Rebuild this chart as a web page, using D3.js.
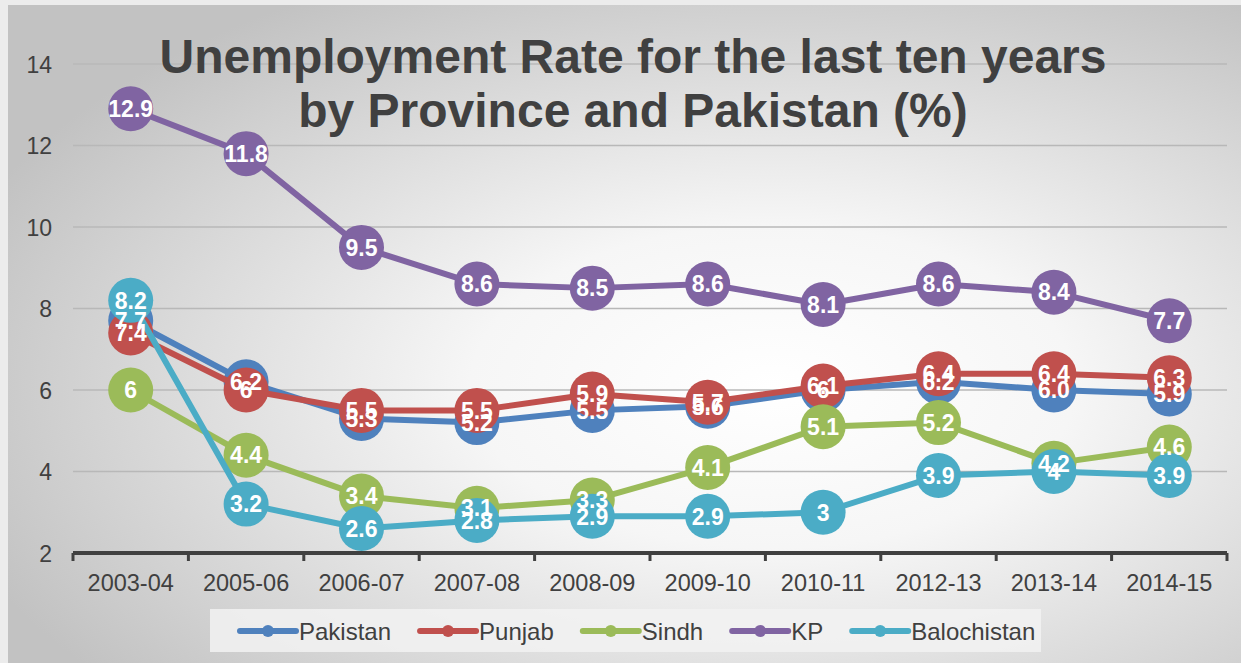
<!DOCTYPE html>
<html>
<head>
<meta charset="utf-8">
<script src="https://cdnjs.cloudflare.com/ajax/libs/d3/7.8.5/d3.min.js"></script>
<style>
  html, body { margin: 0; padding: 0; background: #ececec; }
  svg { display: block; font-family: "Liberation Sans", Arial, sans-serif; }
</style>
</head>
<body>
<div id="chart"></div>
<script>
// Data
const years = ["2003-04", "2005-06", "2006-07", "2007-08", "2008-09", "2009-10", "2010-11", "2012-13", "2013-14", "2014-15"];
const seriesNames = ["Pakistan", "Punjab", "Sindh", "KP", "Balochistan"];
const pakistan = [7.7, 6.2, 5.3, 5.2, 5.5, 5.6, 6, 6.2, 6.0, 5.9];
const punjab = [7.4, 6, 5.5, 5.5, 5.9, 5.7, 6.1, 6.4, 6.4, 6.3];
const sindh = [6, 4.4, 3.4, 3.1, 3.3, 4.1, 5.1, 5.2, 4.2, 4.6];
const kp = [12.9, 11.8, 9.5, 8.6, 8.5, 8.6, 8.1, 8.6, 8.4, 7.7];
const balochistan = [8.2, 3.2, 2.6, 2.8, 2.9, 2.9, 3, 3.9, 4, 3.9];
// the source shows "6.0" for Pakistan 2013-14
const pakistanLabels = ["7.7", "6.2", "5.3", "5.2", "5.5", "5.6", "6", "6.2", "6.0", "5.9"];
const yTicks = [2, 4, 6, 8, 10, 12, 14];
const colors = ["#4f81bd", "#c0504d", "#9bbb59", "#8064a2", "#4bacc6"];

const W = 1241, H = 663;
const series = [pakistan, punjab, sindh, kp, balochistan].map((vals, i) => ({
    name: seriesNames[i],
    color: colors[i],
    points: vals.map((v, j) => ({
        year: years[j],
        value: v,
        label: i === 0 ? pakistanLabels[j] : String(v)
    }))
}));

const svg = d3.select("#chart")
    .append("svg")
    .attr("width", W)
    .attr("height", H);

// Background panel with radial shading
const defs = svg.append("defs");
const grad = defs.append("radialGradient")
    .attr("id", "bg")
    .attr("cx", "62%").attr("cy", "58%").attr("r", "70%");
grad.append("stop").attr("offset", "0%").attr("stop-color", "#ffffff");
grad.append("stop").attr("offset", "35%").attr("stop-color", "#f6f6f6");
grad.append("stop").attr("offset", "100%").attr("stop-color", "#c2c2c2");

svg.append("rect")
    .attr("x", 8).attr("y", 5)
    .attr("width", W - 8).attr("height", H - 5)
    .attr("fill", "url(#bg)");

// Scales
const x = d3.scaleBand()
    .domain(years)
    .range([73, 1227])
    .padding(0);
const cx = d => x(d) + x.bandwidth() / 2;

const y = d3.scaleLinear()
    .domain([2, 14])
    .range([553, 64]);

// Gridlines
svg.append("g")
    .selectAll("line")
    .data(yTicks.filter(t => t > 2))
    .join("line")
    .attr("x1", 73).attr("x2", 1227)
    .attr("y1", d => y(d)).attr("y2", d => y(d))
    .attr("stroke", "#b8b8b8")
    .attr("stroke-width", 1.5);

// Y axis labels
svg.append("g")
    .call(d3.axisLeft(y).tickValues(yTicks).tickSize(0).tickPadding(0))
    .attr("transform", "translate(52,0)")
    .call(g => g.select(".domain").remove())
    .selectAll("text")
    .attr("font-size", "23px")
    .attr("font-family", "Liberation Sans, Arial, sans-serif")
    .attr("fill", "#404040")
    .attr("dy", "0.36em");

// X axis
const xAxis = svg.append("g")
    .attr("transform", "translate(0,553)")
    .call(d3.axisBottom(x).tickSize(0).tickPadding(0));
xAxis.select(".domain").remove();
xAxis.selectAll("text")
    .attr("font-size", "23.5px")
    .attr("font-family", "Liberation Sans, Arial, sans-serif")
    .attr("fill", "#404040")
    .attr("y", 38)
    .attr("dy", 0);

svg.append("line")
    .attr("x1", 73).attr("x2", 1227)
    .attr("y1", 553).attr("y2", 553)
    .attr("stroke", "#404040")
    .attr("stroke-width", 4);

svg.append("g")
    .selectAll("line")
    .data(years.map(d => x(d)).concat([x.range()[1]]))
    .join("line")
    .attr("x1", d => d).attr("x2", d => d)
    .attr("y1", 553).attr("y2", 561)
    .attr("stroke", "#404040")
    .attr("stroke-width", 3);

// Lines and markers
const line = d3.line()
    .x(d => cx(d.year))
    .y(d => y(d.value));

series.forEach(s => {
    const g = svg.append("g");
    g.append("path")
        .datum(s.points)
        .attr("d", line)
        .attr("fill", "none")
        .attr("stroke", s.color)
        .attr("stroke-width", 6)
        .attr("stroke-linejoin", "round");
    g.selectAll("circle")
        .data(s.points)
        .join("circle")
        .attr("cx", d => cx(d.year))
        .attr("cy", d => y(d.value))
        .attr("r", 22.5)
        .attr("fill", s.color);
});

// Data labels on top of everything
series.forEach(s => {
    svg.append("g")
        .selectAll("text")
        .data(s.points)
        .join("text")
        .attr("x", d => cx(d.year))
        .attr("y", d => y(d.value))
        .attr("dy", "0.36em")
        .attr("text-anchor", "middle")
        .attr("font-size", "23px")
        .attr("font-weight", "bold")
        .attr("fill", "#ffffff")
        .text(d => d.label);
});

// Title
const title = svg.append("text")
    .attr("x", 633)
    .attr("text-anchor", "middle")
    .attr("font-size", "48px")
    .attr("font-weight", "bold")
    .attr("fill", "#404040");
title.append("tspan").attr("x", 633).attr("y", 73)
    .text("Unemployment Rate for the last ten years");
title.append("tspan").attr("x", 633).attr("y", 127)
    .text("by Province and Pakistan (%)");

// Legend
svg.append("rect")
    .attr("x", 210).attr("y", 609)
    .attr("width", 831).attr("height", 43)
    .attr("fill", "#f2f2f2")
    .attr("opacity", 0.85);

let lx = 240;
series.forEach(s => {
    const g = svg.append("g").attr("transform", `translate(${lx},631)`);
    g.append("line")
        .attr("x1", 0).attr("x2", 56)
        .attr("stroke", s.color)
        .attr("stroke-width", 6)
        .attr("stroke-linecap", "round");
    g.append("circle")
        .attr("cx", 28).attr("r", 6)
        .attr("fill", s.color);
    const t = g.append("text")
        .attr("x", 59)
        .attr("dy", "0.36em")
        .attr("font-size", "24px")
        .attr("fill", "#404040")
        .text(s.name);
    lx += 59 + t.node().getComputedTextLength() + 29;
});
</script>
</body>
</html>
